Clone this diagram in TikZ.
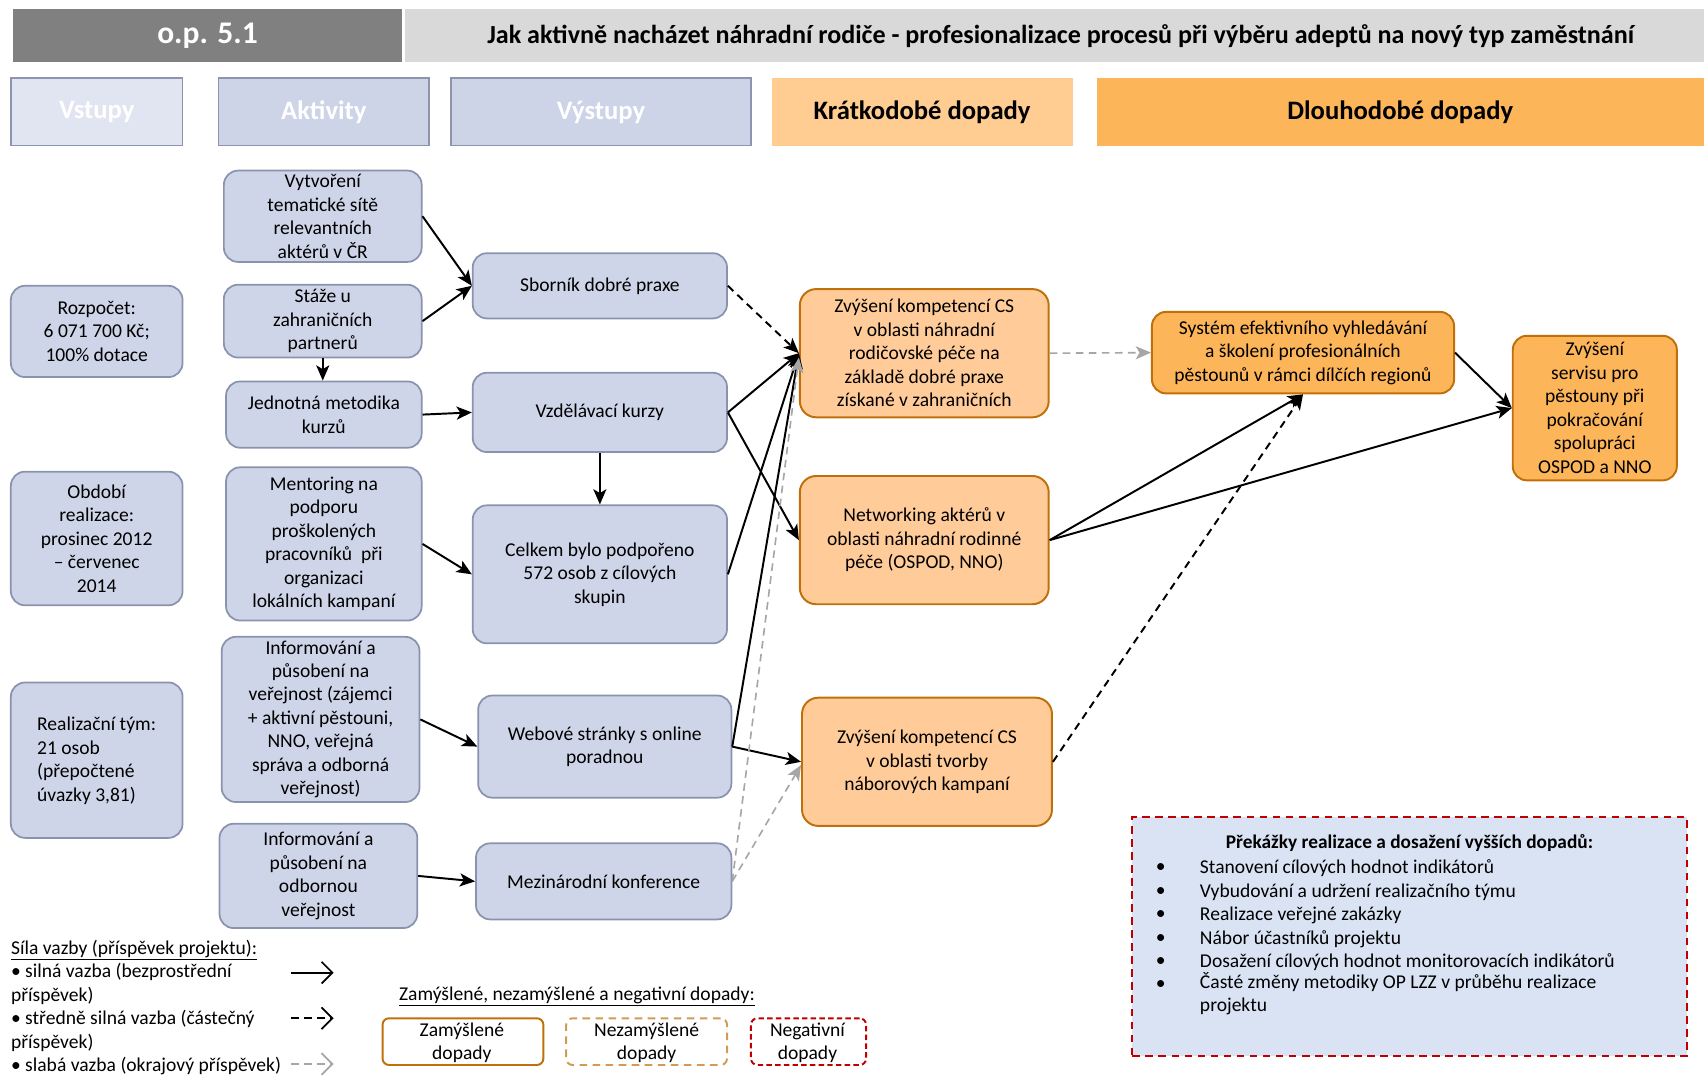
\documentclass[tikz,border=0pt]{standalone}
\usepackage{fontspec}
\setmainfont{Carlito}
\usetikzlibrary{arrows.meta}
\definecolor{headDark}{HTML}{808080}
\definecolor{headLight}{HTML}{D9D9D9}
\definecolor{vstFill}{HTML}{E1E5F1}
\definecolor{colFill}{HTML}{CDD4E8}
\definecolor{colBorder}{HTML}{8C94AE}
\definecolor{boxFill}{HTML}{CED5E8}
\definecolor{boxBorder}{HTML}{8A93AD}
\definecolor{kratFill}{HTML}{FFCD92}
\definecolor{dlouhFill}{HTML}{FDB55A}
\definecolor{sFill}{HTML}{FFCC99}
\definecolor{oBorder}{HTML}{C0700A}
\definecolor{prekFill}{HTML}{DAE3F3}
\definecolor{redBorder}{HTML}{C00000}
\definecolor{nezBorder}{HTML}{D29A54}
\definecolor{weakGray}{HTML}{A6A6A6}
\tikzset{
  every node/.style={font=\fontsize{18}{21.6}\selectfont, inner sep=0pt},
  colhead/.style={draw=colBorder, line width=1.6pt, fill=colFill, text=white,
     font=\fontsize{24.5}{28}\selectfont\bfseries, minimum height=62},
  imphead/.style={fill=#1, text=black, font=\fontsize{24.5}{28}\selectfont\bfseries, minimum height=62},
  bbox/.style={draw=boxBorder, fill=boxFill, line width=1.6pt, rounded corners=13pt, align=center},
  sbox/.style={draw=oBorder, fill=sFill, line width=1.8pt, rounded corners=15pt, align=center},
  lbox/.style={draw=oBorder, fill=dlouhFill, line width=1.8pt, rounded corners=13pt, align=center},
  strong/.style={line width=1.8pt, -{Stealth[length=14pt,width=12pt,inset=3.5pt]}},
  medium/.style={strong, dash pattern=on 7pt off 5pt},
  weak/.style={line width=1.5pt, draw=weakGray, dash pattern=on 7pt off 5pt,
     -{Stealth[length=14pt,width=12pt,inset=3.5pt,fill=weakGray]}},
  legarrow/.style={line width=1.6pt, -{Straight Barb[length=10pt,width=20pt,line width=1.6pt]}},
  legbox/.style={line width=1.8pt, rounded corners=6pt, fill=white, minimum height=43, align=center}
}
\begin{document}
\begin{tikzpicture}[x=1pt,y=-1pt]
\useasboundingbox (0,0) rectangle (1568,990);

% header
\node[fill=headDark, minimum width=358, minimum height=49, text=white,
  font=\fontsize{29}{32}\selectfont\bfseries] (hdr) at (191,32.5) {o.p. 5.1};
\node[fill=headLight, minimum width=1195, minimum height=49] (hdrbg) at (970.5,32.5) {};
\node[font=\fontsize{24}{28}\selectfont\bfseries] (title) at (976,33)
  {Jak aktivně nacházet náhradní rodiče - profesionalizace procesů při výběru adeptů na nový typ zaměstnání};

% column headers
\node[colhead, fill=vstFill, minimum width=158] (hV) at (89,103) {Vstupy};
\node[colhead, minimum width=194] (hA) at (298,103) {Aktivity};
\node[colhead, minimum width=276] (hO) at (553,103) {Výstupy};
\node[imphead=kratFill, minimum width=277] (hK) at (848.5,103) {Krátkodobé dopady};
\node[imphead=dlouhFill, minimum width=559] (hD) at (1288.5,103) {Dlouhodobé dopady};

% inputs
\node[bbox, minimum width=158, minimum height=84] (i1) at (89,305) {Rozpočet:\\6 071 700 Kč;\\100\% dotace};
\node[bbox, minimum width=158, minimum height=123] (i2) at (89,495.5) {Období\\realizace:\\prosinec 2012\\– červenec\\2014};
\node[bbox, minimum width=158, minimum height=143] (i3) at (89,699.5) {};
\node[anchor=west, align=left] (i3t) at (34,700) {Realizační tým:\\21 osob\\(přepočtené\\úvazky 3,81)};

% activities
\node[bbox, minimum width=182, minimum height=84] (a1) at (297,199) {Vytvoření\\tematické sítě\\relevantních\\aktérů v ČR};
\node[bbox, minimum width=182, minimum height=67] (a2) at (297,295.5) {Stáže u\\zahraničních\\partnerů};
\node[bbox, minimum width=180, minimum height=61] (a3) at (298,381.5) {Jednotná metodika\\kurzů};
\node[bbox, minimum width=180, minimum height=141] (a4) at (298,500.5) {Mentoring na\\podporu\\proškolených\\pracovníků~ při\\organizaci\\lokálních kampaní};
\node[bbox, minimum width=182, minimum height=152] (a5) at (295,662) {Informování a\\působení na\\veřejnost (zájemci\\+ aktivní pěstouni,\\NNO, veřejná\\správa a odborná\\veřejnost)};
\node[bbox, minimum width=182, minimum height=96] (a6) at (293,806) {Informování a\\působení na\\odbornou\\veřejnost};

% outputs
\node[bbox, minimum width=234, minimum height=60] (o1) at (552,263) {Sborník dobré praxe};
\node[bbox, minimum width=234, minimum height=73] (o2) at (552,379.5) {Vzdělávací kurzy};
\node[bbox, minimum width=234, minimum height=127] (o3) at (552,528.5) {Celkem bylo podpořeno\\572 osob z cílových\\skupin};
\node[bbox, minimum width=233, minimum height=94] (o4) at (556.5,687) {Webové stránky s online\\poradnou};
\node[bbox, minimum width=235, minimum height=70] (o5) at (555.5,811) {Mezinárodní konference};

% short-term impacts
\node[sbox, minimum width=229, minimum height=118] (s1) at (850.5,325) {Zvýšení kompetencí CS\\v oblasti náhradní\\rodičovské péče na\\základě dobré praxe\\získané v zahraničních};
\node[sbox, minimum width=229, minimum height=118] (s2) at (850.5,497) {Networking aktérů v\\oblasti náhradní rodinné\\péče (OSPOD, NNO)};
\node[sbox, minimum width=230, minimum height=118] (s3) at (853,701) {Zvýšení kompetencí CS\\v oblasti tvorby\\náborových kampaní};

% long-term impacts
\node[lbox, minimum width=278, minimum height=75] (l1) at (1199,324.5) {Systém efektivního vyhledávání\\a školení profesionálních\\pěstounů v rámci dílčích regionů};
\node[lbox, minimum width=151, minimum height=133] (l2) at (1467.5,375.5) {Zvýšení\\servisu pro\\pěstouny při\\pokračování\\spolupráci\\OSPOD a NNO};

% connectors
\draw[strong] (a1.east) -- (o1.west);
\draw[strong] (a2.east) -- (o1.west);
\draw[strong] (a2.south) -- (a2.south |- a3.north);
\draw[strong] (a3.east) -- (o2.west);
\draw[strong] (a4.east) -- (o3.west);
\draw[strong] (a5.east) -- (o4.west);
\draw[strong] (a6.east) -- (o5.west);
\draw[strong] (o2.south) -- (o3.north);
\draw[medium] (o1.east) -- (s1.west);
\draw[strong] (o2.east) -- (s1.west);
\draw[strong] (o2.east) -- (s2.west);
\draw[strong] (o3.east) -- (s1.west);
\draw[strong] (o4.east) -- (s1.west);
\draw[strong] (o4.east) -- (s3.west);
\draw[weak] (o5.east) -- ([yshift=-4pt]s1.west);
\draw[weak] (o5.east) -- ([yshift=-3pt]s3.west);
\draw[weak] (s1.east) -- (l1.west);
\draw[strong] (s2.east) -- (l1.south);
\draw[medium] (s3.east) -- (l1.south);
\draw[strong] (s2.east) -- (l2.west);
\draw[strong] (l1.east) -- (l2.west);

% obstacles box
\node[draw=redBorder, fill=prekFill, line width=1.8pt, dash pattern=on 7pt off 5pt,
  minimum width=510, minimum height=220] (prek) at (1297,862) {};
\node[font=\fontsize{17.8}{21.6}\selectfont\bfseries] (prekT) at (1297,776) {Překážky realizace a dosažení vyšších dopadů:};
\foreach \i/\yy/\txt in {1/799/{Stanovení cílových hodnot indikátorů},
  2/821/{Vybudování a udržení realizačního týmu},
  3/842/{Realizace veřejné zakázky},
  4/864/{Nábor účastníků projektu},
  5/885/{Dosažení cílových hodnot monitorovacích indikátorů}} {
  \node (pb\i) at (1068,\yy) {•};
  \node[anchor=west] (pt\i) at (1104,\yy) {\txt};
}
\node (pb6) at (1068,906) {•};
\node[anchor=north west, align=left] (pt6) at (1104,894.5) {Časté změny metodiky OP LZZ v průběhu realizace\\projektu};

% legend: link strength
\node[anchor=west, align=left] (legT) at (10,927)
  {\underline{Síla vazby (příspěvek projektu):}\\• silná vazba (bezprostřední\\příspěvek)\\• středně silná vazba (částečný\\příspěvek)\\• slabá vazba (okrajový příspěvek)};
\coordinate (ls1) at (268,895); \coordinate (le1) at (307,895);
\coordinate (ls2) at (268,937); \coordinate (le2) at (307,937);
\coordinate (ls3) at (268,979); \coordinate (le3) at (307,979);
\draw[legarrow] (ls1) -- (le1);
\draw[legarrow, dash pattern=on 7pt off 5pt] (ls2) -- (le2);
\draw[legarrow, draw=weakGray, dash pattern=on 7pt off 5pt] (ls3) -- (le3);

% legend: impact types
\node[anchor=west] (legZ) at (367,917) {\underline{Zamýšlené, nezamýšlené a negativní dopady:}};
\node[legbox, draw=oBorder, minimum width=148] (lz) at (426,958.5) {};
\node[align=center] (lzt) at (425,959.5) {Zamýšlené\\dopady};
\node[legbox, draw=nezBorder, dash pattern=on 7pt off 5pt, minimum width=148] (ln) at (595,958.5) {};
\node[align=center] (lnt) at (595,959.5) {Nezamýšlené\\dopady};
\node[legbox, draw=redBorder, dash pattern=on 5pt off 3pt, minimum width=106] (lg) at (744,958.5) {};
\node[align=center] (lgt) at (743,959.5) {Negativní\\dopady};
\end{tikzpicture}
\end{document}
